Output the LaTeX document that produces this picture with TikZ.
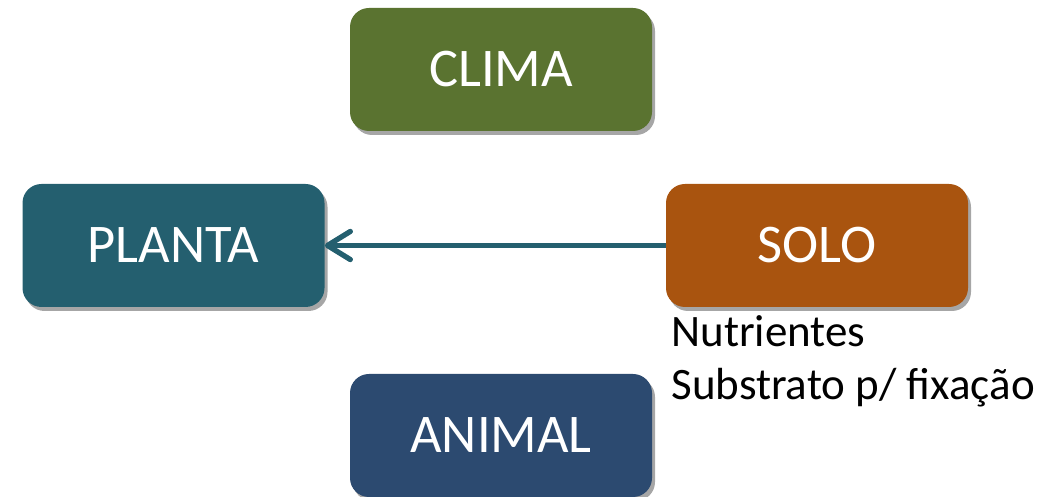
\documentclass[tikz,border=0pt]{standalone}
\usepackage{fontspec}
\setmainfont{Carlito}
\usetikzlibrary{arrows.meta,shadows}
\definecolor{climagreen}{HTML}{5A7330}
\definecolor{plantateal}{HTML}{245F6F}
\definecolor{solobrown}{HTML}{A9540F}
\definecolor{animalblue}{HTML}{2C4A70}
\tikzset{
  bloco/.style={rounded corners=0.38cm, minimum width=6.04cm, minimum height=2.46cm,
    text=white, font=\fontsize{31}{37}\selectfont,
    drop shadow={shadow xshift=0.06cm, shadow yshift=-0.08cm, fill=black, opacity=0.35}},
  legenda/.style={anchor=base west, inner sep=0pt, font=\fontsize{25.6}{31}\selectfont}
}
\begin{document}
\begin{tikzpicture}
\useasboundingbox (0,0) rectangle (21.18,-9.94);
\node[bloco, fill=climagreen] (clima) at (10.02,-1.39) {CLIMA};
\node[bloco, fill=plantateal] (planta) at (3.47,-4.91) {PLANTA};
\node[bloco, fill=solobrown] (solo) at (16.34,-4.91) {SOLO};
\node[bloco, fill=animalblue] (animal) at (10.02,-8.71) {ANIMAL};
\draw[plantateal, line width=3pt, -{Straight Barb[length=13pt,width=16pt,round]}] (solo.west) -- (planta.east);
\node[legenda] (nutri) at (13.42,-6.94) {Nutrientes};
\node[legenda] (subst) at (13.42,-8.0) {Substrato p/ fixação};
\end{tikzpicture}
\end{document}
